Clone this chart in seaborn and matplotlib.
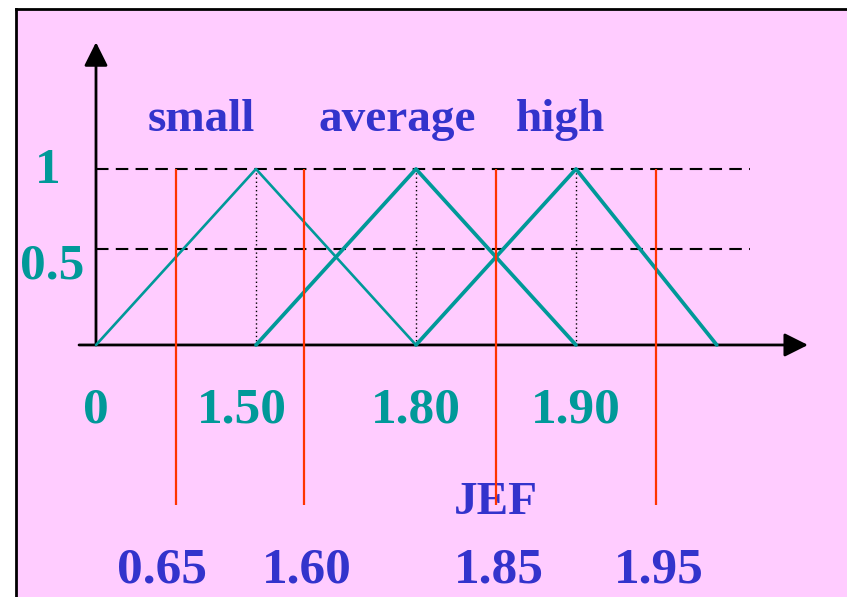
import matplotlib
matplotlib.use('Agg')
import matplotlib.pyplot as plt
import seaborn as sns

# schematic x axis: each JEF breakpoint gets its own slot
jef_ticks = ['0', '1.50', '1.80', '1.90']
tick_slots = [0, 1, 2, 3]

# membership functions (slot, membership)
small_x = [0, 1, 2]
small_y = [0, 1, 0]
average_x = [1, 2, 3]
average_y = [0, 1, 0]
high_x = [2, 3, 3.88]
high_y = [0, 1, 0]
set_names = ['small', 'average', 'high']

# JEF cut values (red lines)
cut_labels = ['0.65', '1.60', '1.85', '1.95']
cut_slots = [0.5, 1.3, 2.5, 3.5]

# membership levels (label, drawn height)
level_labels = ['0.5', '1']
level_heights = [0.545, 1.0]

PINK = '#FFCCFF'
TEAL = '#009999'
BLUE = '#3333CC'
RED = '#FF3300'

sns.set_theme(style='white')
plt.rcParams['font.family'] = ['Liberation Serif', 'DejaVu Serif']
plt.rcParams['font.weight'] = 'bold'

W, H = 847, 597
fig = plt.figure(figsize=(W / 100, H / 100), dpi=100, facecolor='white')
ax = fig.add_axes([16 / W, 0, 1 - 16 / W, 588 / H])
ax.set_facecolor(PINK)
for side in ['right', 'bottom']:
    ax.spines[side].set_visible(False)
for side in ['left', 'top']:
    ax.spines[side].set_color('black')
    ax.spines[side].set_linewidth(2)
ax.set_xlim(-0.5, 4.694)
ax.set_ylim(-1.432, 1.909)
ax.set_xticks([])
ax.set_yticks([])

# axes with arrows
arrow = dict(arrowstyle='-|>,head_length=0.72,head_width=0.36', mutation_scale=20,
             color='black', lw=2, shrinkA=0, shrinkB=0)
ax.annotate('', xy=(0, 1.72), xytext=(0, 0), arrowprops=arrow)
ax.annotate('', xy=(4.45, 0), xytext=(-0.106, 0), arrowprops=arrow)

# dashed membership levels
ax.hlines(level_heights, 0, 4.0875, colors='black', linestyles=(0, (6, 3.5)), lw=1.5, zorder=2)
# dotted peaks
ax.vlines(tick_slots[1:], 0, 1, colors='black', linestyles=(0, (1, 2)), lw=1, zorder=2)

# membership triangles
sns.lineplot(x=small_x, y=small_y, ax=ax, color=TEAL, lw=1.9, zorder=3)
sns.lineplot(x=average_x, y=average_y, ax=ax, color=TEAL, lw=2.7, zorder=3)
sns.lineplot(x=high_x, y=high_y, ax=ax, color=TEAL, lw=2.7, zorder=3)

# red cut lines
ax.vlines(cut_slots, -0.909, 1, colors=RED, lw=1.6, zorder=5)

num_fs = 37
word_fs = 34

# y labels
for lab, h, dx, base in zip(level_labels, level_heights, [-0.275, -0.3], [0.38, 0.92]):
    ax.text(dx, base, lab, color=TEAL, fontsize=num_fs, fontweight='bold',
            ha='center', va='baseline', zorder=4)

# x tick labels
tick_shift = [0, -0.09, 0, 0]
for lab, s, d in zip(jef_ticks, tick_slots, tick_shift):
    ax.text(s + d, -0.443, lab, color=TEAL, fontsize=num_fs, fontweight='bold',
            ha='center', va='baseline', zorder=4)

# set names
for name, s in zip(set_names, [0.66, 1.88, 2.9]):
    ax.text(s, 1.216, name, color=BLUE, fontsize=word_fs, fontweight='bold',
            ha='center', va='baseline', zorder=4)

# cut labels
cut_shift = [-0.09, 0.02, 0.02, 0.02]
for lab, s, d in zip(cut_labels, cut_slots, cut_shift):
    ax.text(s + d, -1.347, lab, color=BLUE, fontsize=num_fs, fontweight='bold',
            ha='center', va='baseline', zorder=4)

ax.text(2.497, -0.96, 'JEF', color=BLUE, fontsize=word_fs, fontweight='bold',
        ha='center', va='baseline', zorder=4)

fig.savefig('out.png', dpi=100, facecolor='white')
